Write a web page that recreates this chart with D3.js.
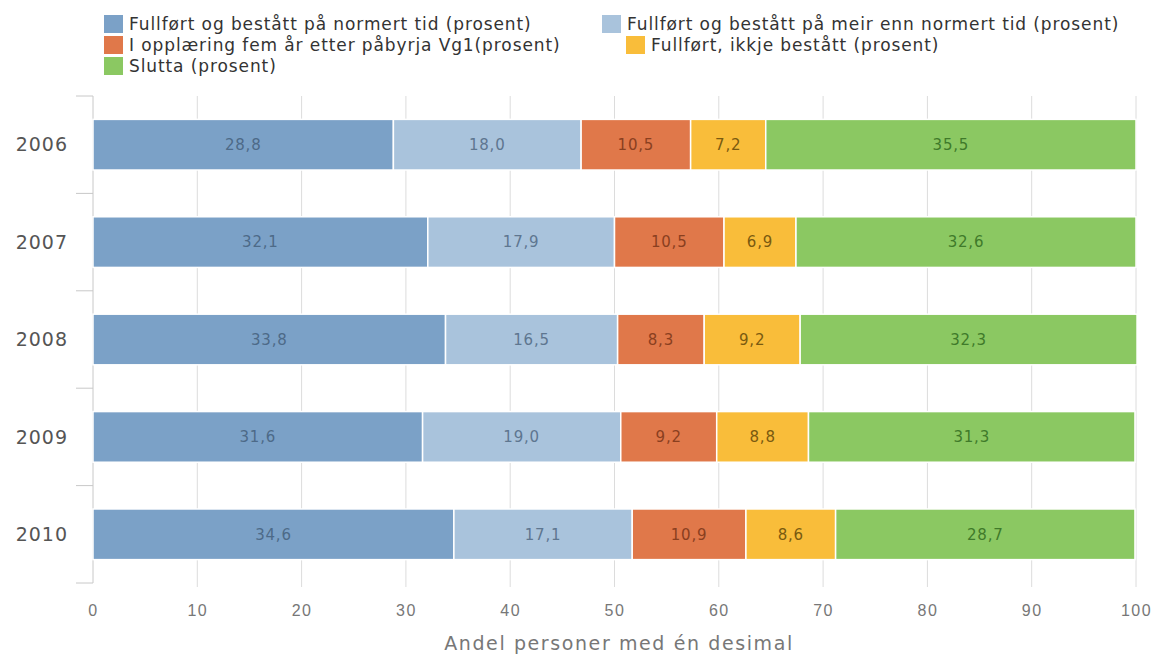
<!DOCTYPE html>
<html><head><meta charset="utf-8">
<script src="https://cdn.jsdelivr.net/npm/d3@7"></script>
<style>body{margin:0;background:#fff;} svg{display:block;font-family:"DejaVu Sans",Verdana,sans-serif;}</style>
</head><body><svg id="c" width="1158" height="657"></svg>
<script>
const years = ["2006","2007","2008","2009","2010"];
const seriesNames = [
  "Fullført og bestått på normert tid (prosent)",
  "Fullført og bestått på meir enn normert tid (prosent)",
  "I opplæring fem år etter påbyrja Vg1(prosent)",
  "Fullført, ikkje bestått (prosent)",
  "Slutta (prosent)"
];
const normertTid = [28.8, 32.1, 33.8, 31.6, 34.6];
const meirEnnNormert = [18.0, 17.9, 16.5, 19.0, 17.1];
const iOpplaering = [10.5, 10.5, 8.3, 9.2, 10.9];
const ikkjeBestatt = [7.2, 6.9, 9.2, 8.8, 8.6];
const slutta = [35.5, 32.6, 32.3, 31.3, 28.7];
const xTicks = [0,10,20,30,40,50,60,70,80,90,100];
const xTitle = "Andel personer med én desimal";

const colors = ["#7ba1c7","#a9c3dc","#e0784a","#f9bd3a","#8bc862"];
const labelColors = ["#4d6a88","#5e7690","#8a3f1f","#7a5a10","#3f7a2a"];
const seriesData = [normertTid, meirEnnNormert, iOpplaering, ikkjeBestatt, slutta];

const svg = d3.select("#c");
const m = {left:93, right:1136, top:96, bottom:583};
const x = d3.scaleLinear().domain([0,100]).range([m.left, m.right]);
const y = d3.scaleBand().domain(years).range([m.top, m.bottom]).paddingInner(0.48).paddingOuter(0.24);

// grid
svg.append("g").selectAll("line").data(xTicks.slice(1)).join("line")
  .attr("x1",d=>x(d)).attr("x2",d=>x(d)).attr("y1",m.top).attr("y2",m.bottom+4)
  .attr("stroke","#dcdcdc").attr("stroke-width",1);

// bottom axis
const xa = svg.append("g").attr("transform",`translate(0,${m.bottom})`)
  .call(d3.axisBottom(x).tickValues(xTicks).tickSize(0).tickPadding(22).tickFormat(d3.format("d")));
xa.select(".domain").remove();
xa.selectAll("text").attr("fill","#777").attr("font-size",16).attr("letter-spacing",1.5);

// left axis
svg.append("line").attr("x1",m.left).attr("x2",m.left).attr("y1",m.top).attr("y2",m.bottom).attr("stroke","#c8c8c8");
const bounds = d3.range(years.length+1).map(i=> m.top + i*(m.bottom-m.top)/years.length);
svg.append("g").selectAll("line").data(bounds).join("line")
  .attr("x1",m.left-17).attr("x2",m.left).attr("y1",d=>d).attr("y2",d=>d).attr("stroke","#c8c8c8");
svg.append("g").selectAll("text").data(years).join("text")
  .attr("x",68).attr("y",d=>y(d)+y.bandwidth()/2).attr("dy","0.35em")
  .attr("text-anchor","end").attr("fill","#555").attr("font-size",19).attr("letter-spacing",1).text(d=>d);

// bars
const stacked = years.map((yr,i)=>{
  let acc=0;
  return seriesData.map((s,k)=>{const v=s[i]; const r={yr,k,v,x0:acc,x1:acc+v}; acc+=v; return r;});
}).flat();
const bg = svg.append("g");
bg.selectAll("rect").data(stacked).join("rect")
  .attr("x",d=>x(d.x0)).attr("width",d=>x(d.x1)-x(d.x0))
  .attr("y",d=>y(d.yr)).attr("height",y.bandwidth())
  .attr("fill",d=>colors[d.k]).attr("stroke","#fff").attr("stroke-width",1.5);
bg.selectAll("text").data(stacked).join("text")
  .attr("x",d=>(x(d.x0)+x(d.x1))/2).attr("y",d=>y(d.yr)+y.bandwidth()/2).attr("dy","0.35em")
  .attr("text-anchor","middle").attr("font-size",15).attr("letter-spacing",0.8).attr("fill",d=>labelColors[d.k])
  .text(d=>d3.format(".1f")(d.v).replace(".",","));

// x title
svg.append("text").attr("x",619).attr("y",650).attr("text-anchor","middle")
  .attr("fill","#777").attr("font-size",19).attr("letter-spacing",1.6).text(xTitle);

// legend
const legPos = [[104,24],[602,24],[104,45],[626,45],[104,66]];
const lg = svg.append("g").selectAll("g").data(seriesNames).join("g")
  .attr("transform",(d,i)=>`translate(${legPos[i][0]},${legPos[i][1]})`);
lg.append("rect").attr("x",0).attr("y",-9).attr("width",19).attr("height",18).attr("fill",(d,i)=>colors[i]);
lg.append("text").attr("x",25).attr("y",0).attr("dy","0.35em").attr("font-size",17).attr("letter-spacing",0.9).attr("fill","#333").text(d=>d);
</script></body></html>
